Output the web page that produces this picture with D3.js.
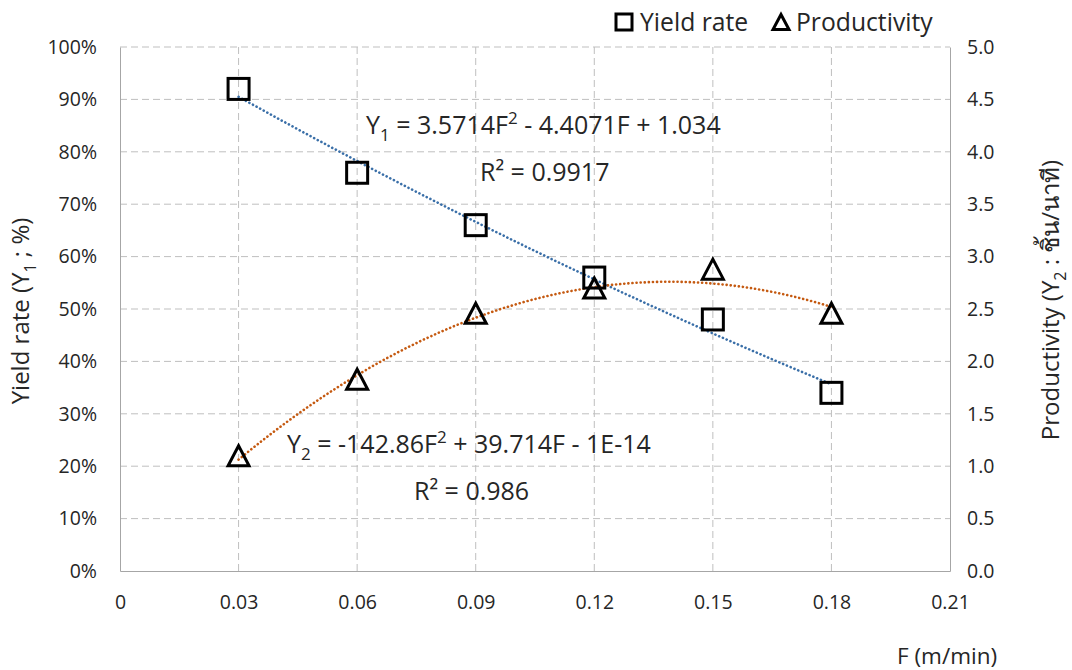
<!DOCTYPE html>
<html>
<head>
<meta charset="utf-8">
<script src="https://cdn.jsdelivr.net/npm/d3@7"></script>
<style>
  html, body { margin: 0; padding: 0; background: #fff; }
  svg text { font-family: "Open Sans", "Noto Sans", "DejaVu Sans", sans-serif; fill: #262626; }
</style>
</head>
<body>
<svg id="chart" width="1072" height="670"></svg>
<script>
// Feed rate F (m/min)
const feedRates = [0.03, 0.06, 0.09, 0.12, 0.15, 0.18];
// Yield rate Y1 (fraction)
const yieldRate = [0.92, 0.76, 0.66, 0.56, 0.48, 0.34];
// Productivity Y2 (pieces/min)
const productivity = [1.1, 1.83, 2.46, 2.7, 2.88, 2.46];

// Polynomial trendline coefficients [a, b, c] for aF^2 + bF + c
const yieldFit = [3.5714, -4.4071, 1.034];
const prodFit = [-142.86, 39.714, -1e-14];

const xTicks = [0, 0.03, 0.06, 0.09, 0.12, 0.15, 0.18, 0.21];
const xTickLabels = ["0", "0.03", "0.06", "0.09", "0.12", "0.15", "0.18", "0.21"];
const leftTicks = [0, 0.1, 0.2, 0.3, 0.4, 0.5, 0.6, 0.7, 0.8, 0.9, 1.0];
const rightTicks = [0, 0.5, 1, 1.5, 2, 2.5, 3, 3.5, 4, 4.5, 5];

const svg = d3.select("#chart");
const plot = { left: 120, right: 950, top: 47, bottom: 571 };

const x = d3.scaleLinear().domain([0, 0.21]).range([plot.left, plot.right]);
const yL = d3.scaleLinear().domain([0, 1]).range([plot.bottom, plot.top]);
const yR = d3.scaleLinear().domain([0, 5]).range([plot.bottom, plot.top]);

const gridColor = "#bfbfbf";

// Gridlines
const grid = svg.append("g");
grid.selectAll("line.h").data(leftTicks.slice(1)).join("line")
  .attr("x1", plot.left).attr("x2", plot.right)
  .attr("y1", d => yL(d)).attr("y2", d => yL(d))
  .attr("stroke", gridColor).attr("stroke-width", 1).attr("stroke-dasharray", "7,4");
grid.selectAll("line.v").data(xTicks.slice(1, -1)).join("line")
  .attr("x1", d => x(d)).attr("x2", d => x(d))
  .attr("y1", plot.top).attr("y2", plot.bottom)
  .attr("stroke", gridColor).attr("stroke-width", 1).attr("stroke-dasharray", "7,4");

// Axes
const fmtPct = d => Math.round(d * 100) + "%";
const axB = svg.append("g").attr("transform", `translate(0,${plot.bottom})`)
  .call(d3.axisBottom(x).tickValues(xTicks).tickFormat((d, i) => xTickLabels[i]).tickSize(0).tickPadding(24));
const axL = svg.append("g").attr("transform", `translate(${plot.left},0)`)
  .call(d3.axisLeft(yL).tickValues(leftTicks).tickFormat(fmtPct).tickSize(0).tickPadding(23));
const axR = svg.append("g").attr("transform", `translate(${plot.right},0)`)
  .call(d3.axisRight(yR).tickValues(rightTicks).tickFormat(d3.format(".1f")).tickSize(0).tickPadding(17));
[axB, axL, axR].forEach(g => {
  g.select(".domain").attr("stroke", "#a6a6a6").attr("stroke-width", 1);
  g.selectAll("text").style("font-size", "19.5px").attr("fill", "#262626");
});

// Trendlines
function curve(coef, scale) {
  const pts = d3.range(0, 151).map(i => {
    const f = 0.03 + (0.15 * i) / 150;
    return [x(f), scale(coef[0] * f * f + coef[1] * f + coef[2])];
  });
  return d3.line()(pts);
}
svg.append("path").attr("d", curve(yieldFit, yL))
  .attr("fill", "none").attr("stroke", "#3a6fa8").attr("stroke-width", 2.6)
  .attr("stroke-dasharray", "0.1,4").attr("stroke-linecap", "round");
svg.append("path").attr("d", curve(prodFit, yR))
  .attr("fill", "none").attr("stroke", "#c55a11").attr("stroke-width", 2.6)
  .attr("stroke-dasharray", "0.1,4").attr("stroke-linecap", "round");

// Markers
const sq = 21;
svg.append("g").selectAll("rect").data(feedRates).join("rect")
  .attr("x", d => x(d) - sq / 2).attr("y", (d, i) => yL(yieldRate[i]) - sq / 2)
  .attr("width", sq).attr("height", sq)
  .attr("fill", "none").attr("stroke", "#000").attr("stroke-width", 3);
const triPath = "M0,-10L10.5,10L-10.5,10Z";
svg.append("g").selectAll("path").data(feedRates).join("path")
  .attr("d", triPath)
  .attr("transform", (d, i) => `translate(${x(d)},${yR(productivity[i])})`)
  .attr("fill", "none").attr("stroke", "#000").attr("stroke-width", 3).attr("stroke-linejoin", "miter");

// Equation labels: parts are plain strings, {sub} or {sup}
function eq(xp, yp, parts, size) {
  const t = svg.append("text").attr("x", xp).attr("y", yp).style("font-size", size + "px");
  let shift = 0;
  parts.forEach(p => {
    if (typeof p === "string") {
      t.append("tspan").attr("dy", -shift).text(p);
      shift = 0;
    } else {
      const dy = p.sub ? 7 : -10;
      t.append("tspan").attr("dy", dy - shift).style("font-size", Math.round(size * 0.66) + "px").text(p.t);
      shift = dy;
    }
  });
  return t;
}
eq(366, 134, ["Y", { t: "1", sub: true }, " = 3.5714F", { t: "2" }, " - 4.4071F + 1.034"], 25);
eq(480, 181, ["R\u00B2 = 0.9917"], 25);
eq(287, 453, ["Y", { t: "2", sub: true }, " = -142.86F", { t: "2" }, " + 39.714F - 1E-14"], 25);
eq(414, 500, ["R\u00B2 = 0.986"], 25);

// Axis titles
const lt = svg.append("text").attr("transform", "translate(29,311) rotate(-90)")
  .attr("text-anchor", "middle").style("font-size", "24px");
lt.append("tspan").text("Yield rate (Y");
lt.append("tspan").attr("dy", 7).style("font-size", "16px").text("1");
lt.append("tspan").attr("dy", -7).text(" ; %)");

const rt = svg.append("text").attr("transform", "translate(1059,300) rotate(-90)")
  .attr("text-anchor", "middle").style("font-size", "24px");
rt.append("tspan").text("Productivity (Y");
rt.append("tspan").attr("dy", 7).style("font-size", "16px").text("2");
rt.append("tspan").attr("dy", -7).text(" : ชิ้น/นาที)");

svg.append("text").attr("x", 897).attr("y", 664).style("font-size", "22.5px").text("F (m/min)");

// Legend
const lg = svg.append("g");
lg.append("rect").attr("x", 616).attr("y", 14).attr("width", 16).attr("height", 16)
  .attr("fill", "none").attr("stroke", "#000").attr("stroke-width", 3);
lg.append("text").attr("x", 640).attr("y", 31).style("font-size", "24.7px").text("Yield rate");
lg.append("path").attr("d", "M0,-7.5L8,7.5L-8,7.5Z")
  .attr("transform", "translate(781,22)")
  .attr("fill", "none").attr("stroke", "#000").attr("stroke-width", 3);
lg.append("text").attr("x", 796).attr("y", 31).style("font-size", "24.7px").text("Productivity");
</script>
</body>
</html>
